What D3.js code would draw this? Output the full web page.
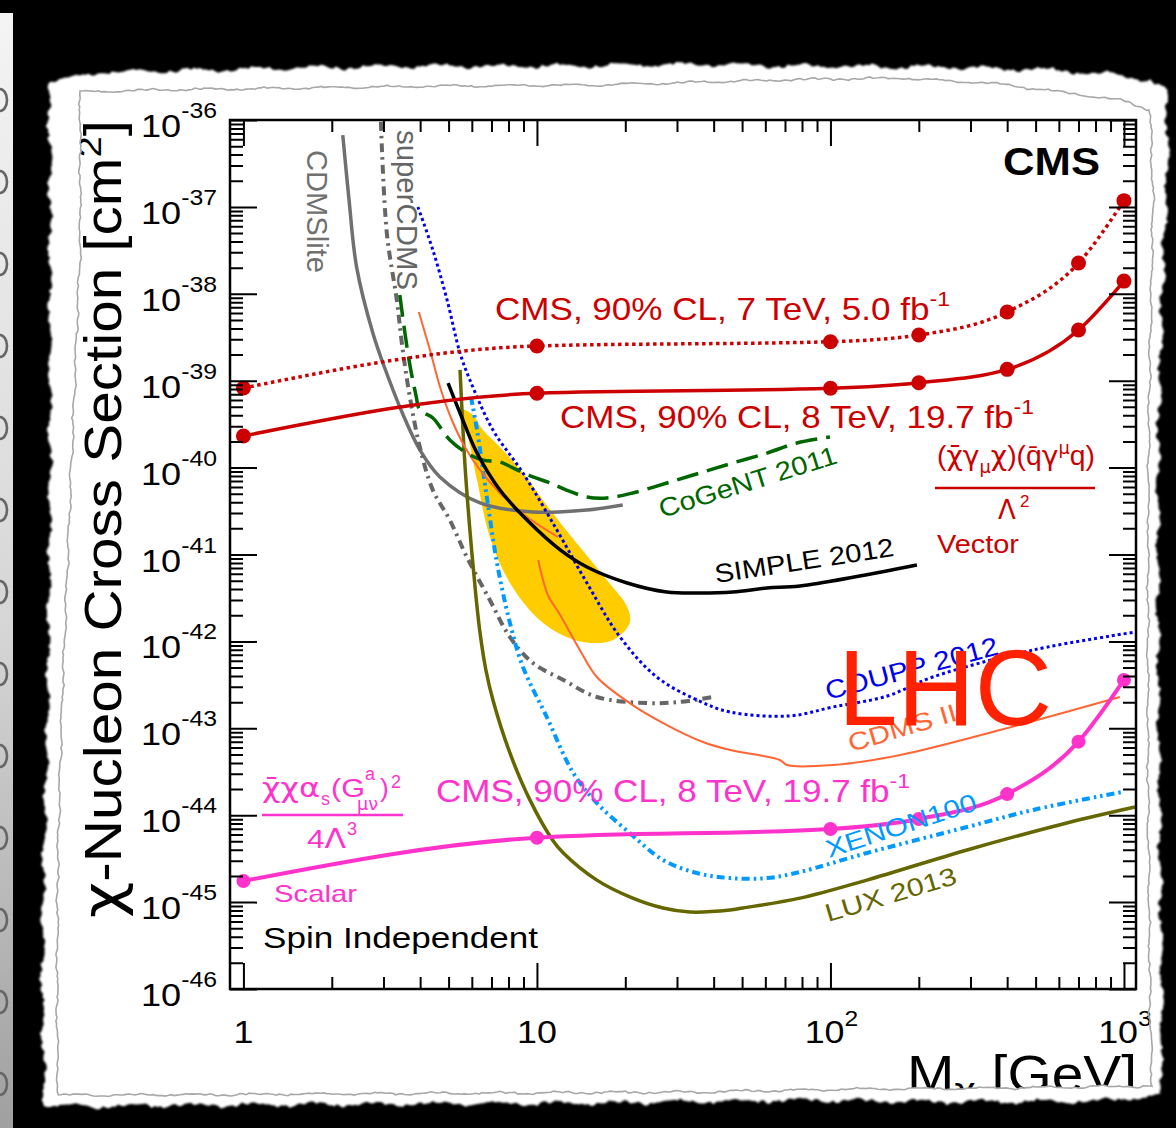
<!DOCTYPE html>
<html><head><meta charset="utf-8">
<script src="https://cdn.jsdelivr.net/npm/d3@7"></script>
<style>html,body{margin:0;padding:0;background:#000;}svg{display:block;}</style>
</head><body>
<svg id="c" width="1176" height="1128"></svg>
<script>
// ---------------- DATA ----------------
const cmsMasses = [1, 10, 100, 200, 400, 700, 1000];
const cms7Vector = [8.24e-40, 2.51e-39, 2.81e-39, 3.36e-39, 6.18e-39, 2.26e-38, 1.18e-37];
const cms8Vector = [2.31e-40, 7.16e-40, 8.18e-40, 9.48e-40, 1.35e-39, 3.83e-39, 1.40e-38];
const cms8Scalar = [1.75e-45, 5.51e-45, 6.94e-45, 9.04e-45, 1.75e-44, 7.02e-44, 3.6e-43];

const cdmsliteMass = [2.18, 2.29, 2.43, 2.76, 3.03, 3.49, 3.99, 4.67, 6.40, 9.70, 14.8, 19.6];
const cdmsliteXsec = [6.7e-37, 1.2e-37, 2.03e-38, 3.54e-39, 1.40e-39, 4.14e-40, 1.6e-40, 7.8e-41, 3.92e-41, 3.08e-41, 3.25e-41, 3.71e-41];

const superCdmsMass = [2.94, 3.08, 3.33, 3.49, 3.69, 3.99, 4.42, 5.05, 5.77, 6.91, 8.09, 9.69, 12.3, 16.0, 23.7, 30.7, 39.5];
const superCdmsXsec = [9.5e-37, 5.0e-38, 8.5e-39, 2.25e-39, 6.5e-40, 1.73e-40, 5.5e-41, 2.49e-41, 9.35e-42, 2.99e-42, 1.12e-42, 5.64e-43, 3.6e-43, 2.29e-43, 1.95e-43, 2.01e-43, 2.29e-43];

const couppMass = [3.93, 4.42, 4.94, 5.47, 5.91, 7.08, 8.96, 11.7, 14.8, 19.2, 25.6, 35.1, 45.5, 72.8, 102, 156, 223, 490, 1090];
const couppXsec = [1.0e-37, 3.19e-38, 8.49e-39, 2.08e-39, 1.02e-39, 2.71e-40, 8.67e-41, 1.91e-41, 4.7e-42, 1.12e-42, 3.89e-43, 2.12e-43, 1.54e-43, 1.39e-43, 1.76e-43, 2.35e-43, 3.89e-43, 7.96e-43, 1.28e-42];

const cdmsLowMass = [3.96, 4.32, 4.71, 5.13, 5.68, 6.40, 7.48, 9.25, 11.8];
const cdmsLowXsec = [6.18e-39, 2.25e-39, 7.82e-40, 3.53e-40, 1.73e-40, 9.4e-41, 5.1e-41, 2.7e-41, 1.59e-41];

const cdmsIIMass = [10.1, 10.9, 12.0, 14.0, 16.0, 20.7, 26.9, 36.8, 45.5, 67.3, 71.1, 102, 173, 378, 968];
const cdmsIIXsec = [8.65e-42, 3.42e-42, 2.01e-42, 7.96e-43, 3.89e-43, 1.95e-43, 1.15e-43, 6.95e-44, 5.62e-44, 4.32e-44, 3.78e-44, 3.78e-44, 4.93e-44, 9.55e-44, 2.29e-43];

const xenonMass = [5.96, 6.25, 6.75, 7.31, 8.09, 8.96, 10.8, 13.3, 16.0, 20.7, 26.9, 35.1, 45.5, 60.8, 78.7, 133, 292, 490, 984];
const xenonXsec = [6.5e-40, 2.71e-40, 4.59e-41, 7.98e-42, 1.63e-42, 5.07e-43, 1.35e-43, 3.06e-44, 1.38e-44, 6.24e-45, 3.05e-45, 2.16e-45, 1.89e-45, 1.89e-45, 2.22e-45, 3.67e-45, 7.31e-45, 1.15e-44, 1.85e-44];

const luxMass = [5.47, 5.68, 5.91, 6.20, 6.40, 6.70, 7.08, 8.09, 9.46, 11.3, 12.3, 16.0, 20.7, 26.9, 33.2, 45.5, 50.3, 78.7, 133, 292, 639, 1090];
const luxXsec = [1.33e-39, 1.13e-40, 1.91e-41, 3.24e-42, 1.25e-42, 4.69e-43, 2.12e-43, 5.2e-44, 1.5e-44, 5.19e-45, 3.67e-45, 1.79e-45, 1.15e-45, 8.55e-46, 7.69e-46, 8.11e-46, 8.55e-46, 1.11e-45, 1.79e-45, 3.98e-45, 8.13e-45, 1.24e-44];

const simpleMass = [4.98, 5.47, 6.25, 7.48, 9.25, 12.0, 14.8, 20.3, 27.7, 35.9, 46.5, 60.8, 78.7, 197];
const simpleXsec = [9.4e-40, 4.25e-40, 1.47e-40, 5.52e-41, 2.49e-41, 1.13e-41, 7.18e-42, 4.7e-42, 3.7e-42, 3.6e-42, 3.7e-42, 4.12e-42, 4.34e-42, 7.57e-42];

const cogentMass = [3.41, 3.55, 3.69, 3.87, 3.99, 4.42, 5.05, 5.77, 6.55, 7.48, 8.55, 9.69, 11.1, 12.6, 14.8, 17.3, 21.2, 27.7, 35.9, 46.5, 60.8, 76.9, 99.6];
const cogentXsec = [9.7e-39, 3.54e-39, 1.52e-39, 6.84e-40, 4.6e-40, 3.72e-40, 2.08e-40, 1.47e-40, 1.22e-40, 1.16e-40, 9.4e-41, 7.8e-41, 6.65e-41, 5.52e-41, 4.59e-41, 4.47e-41, 5.1e-41, 6.65e-41, 8.67e-41, 1.13e-40, 1.47e-40, 1.92e-40, 2.25e-40];

const regionMass = [5.59, 5.77, 6.25, 6.91, 8.09, 10.2, 12.6, 15.2, 18.2, 20.7, 20.3, 17.3, 14.0, 11.1, 8.96, 7.48, 6.55, 6.05];
const regionXsec = [4.6e-40, 2.71e-40, 7.2e-41, 1.59e-41, 4.7e-42, 1.76e-42, 1.12e-42, 9.6e-43, 1.04e-42, 1.63e-42, 2.49e-42, 5.09e-42, 1.22e-41, 3.25e-41, 8.67e-41, 1.73e-40, 2.71e-40, 4.03e-40];

const xMajorTicks = [1, 10, 100, 1000];
const xTickBase = ["1", "10", "10", "10"];
const xTickExp = ["", "", "2", "3"];
const yTickExp = ["-36", "-37", "-38", "-39", "-40", "-41", "-42", "-43", "-44", "-45", "-46"];

// ---------------- SETUP ----------------
const FONT = "'Liberation Sans', Arial, Helvetica, sans-serif";
const GREEK = "'DejaVu Sans', 'Liberation Serif', serif";
const svg = d3.select('#c');
const defs = svg.append('defs');
const W = 1176, H = 1128;

svg.append('rect').attr('width', W).attr('height', H).attr('fill', '#000');

// left strip (edge of another page behind)
const grad = defs.append('linearGradient').attr('id', 'strip').attr('x1', 0).attr('y1', 0).attr('x2', 0).attr('y2', 1);
grad.append('stop').attr('offset', '0').attr('stop-color', '#f4f4f4');
grad.append('stop').attr('offset', '0.55').attr('stop-color', '#d6d6d6');
grad.append('stop').attr('offset', '1').attr('stop-color', '#a0a0a0');
defs.append('clipPath').attr('id', 'stripClip').append('rect').attr('x', 0).attr('y', 13).attr('width', 13).attr('height', H - 13);
const strip = svg.append('g').attr('clip-path', 'url(#stripClip)');
strip.append('rect').attr('x', 0).attr('y', 13).attr('width', 13).attr('height', H - 13).attr('fill', 'url(#strip)');
d3.range(100, 1100, 82).forEach(cy => {
  strip.append('ellipse').attr('cx', 0).attr('cy', cy).attr('rx', 7).attr('ry', 11)
    .attr('fill', 'none').attr('stroke', '#666').attr('stroke-width', 2.6);
});

// torn edge helpers (decorative)
function hash(i, s) { const v = Math.sin(i * 12.9898 + s * 78.233) * 43758.5453; return (v - Math.floor(v)) * 2 - 1; }
function jagged(pts, step, amp, seed) {
  const out = [];
  let c = 0;
  for (let i = 0; i < pts.length - 1; i++) {
    const [x0, y0] = pts[i], [x1, y1] = pts[i + 1];
    const L = Math.hypot(x1 - x0, y1 - y0), n = Math.max(1, Math.round(L / step));
    const nx = -(y1 - y0) / L, ny = (x1 - x0) / L;
    for (let k = 0; k < n; k++) {
      const t = k / n; c++;
      const r = amp * (0.55 * Math.sin(c * 0.31 + seed) + 0.25 * Math.sin(c * 1.37 + seed * 2) + 0.35 * hash(c, seed));
      out.push([x0 + (x1 - x0) * t + nx * r, y0 + (y1 - y0) * t + ny * r]);
    }
  }
  return out;
}
const outerCtrl = [[48,82],[100,72],[200,70],[300,68],[420,66],[560,66],[700,64],[800,66],[950,67],[1050,70],[1110,74],[1150,80],[1166,90],
  [1168,150],[1162,300],[1158,450],[1158,650],[1160,850],[1162,1000],[1161,1095],
  [1100,1101],[950,1102],[800,1100],[600,1103],[400,1104],[200,1105],[100,1106],[45,1106],
  [42,1000],[44,850],[48,700],[50,500],[50,300],[50,150],[48,82]];
const innerCtrl = [[80,92],[150,90],[300,88],[450,86],[600,85],[776,80],[900,78],[1000,84],[1060,92],[1120,100],[1150,110],
  [1153,200],[1149,400],[1148,600],[1148,800],[1150,1000],[1152,1086],
  [1000,1088],[860,1089],[700,1092],[500,1093],[300,1094],[120,1095],[58,1095],
  [57,1000],[58,850],[62,700],[68,550],[74,400],[80,250],[80,92]];
const outerPts = jagged(outerCtrl, 3, 3.2, 1.7);
const innerPts = jagged(innerCtrl, 3, 1.6, 4.1);
const closed = d3.line();
defs.append('filter').attr('id', 'soft').append('feGaussianBlur').attr('stdDeviation', 0.9);
svg.append('path').attr('d', closed(outerPts) + 'Z').attr('fill', '#fff').attr('filter', 'url(#soft)');
defs.append('clipPath').attr('id', 'innerClip').append('path').attr('d', closed(innerPts) + 'Z');

const page = svg.append('g').attr('clip-path', 'url(#innerClip)');
const free = svg.append('g');

// ---------------- SCALES ----------------
const X0 = 230, X1 = 1136, Y0 = 120, Y1 = 989;
const x = d3.scaleLog().domain([0.9, 1099]).range([X0, X1]);
const y = d3.scaleLog().domain([1e-46, 1e-36]).range([Y1, Y0]);

defs.append('clipPath').attr('id', 'plotClip').append('rect').attr('x', X0).attr('y', Y0).attr('width', X1 - X0).attr('height', Y1 - Y0);
const plot = page.append('g').attr('clip-path', 'url(#plotClip)');

const line = d3.line().x(d => x(d[0])).y(d => y(d[1])).curve(d3.curveCatmullRom.alpha(0.5));
const smooth = d3.line().x(d => x(d[0])).y(d => y(d[1])).curve(d3.curveMonotoneX);

// signal region
plot.append('path').datum(d3.zip(regionMass, regionXsec))
  .attr('d', d3.line().x(d => x(d[0])).y(d => y(d[1])).curve(d3.curveCatmullRomClosed.alpha(0.5)))
  .attr('fill', '#ffcc00').attr('stroke', 'none');

function curve(m, s, color, width, dash) {
  const p = plot.append('path').datum(d3.zip(m, s)).attr('d', line)
    .attr('fill', 'none').attr('stroke', color).attr('stroke-width', width).attr('stroke-linejoin', 'round');
  if (dash) p.attr('stroke-dasharray', dash);
}
curve(cdmsliteMass, cdmsliteXsec, '#707070', 3.5);
curve(superCdmsMass, superCdmsXsec, '#666666', 4, '9,5,2.5,5');
curve(luxMass, luxXsec, '#666600', 3.5);
curve(xenonMass, xenonXsec, '#0099ff', 4, '8,4,2.5,4,2.5,4');
curve(cdmsLowMass, cdmsLowXsec, '#ff6633', 2);
curve(cdmsIIMass, cdmsIIXsec, '#ff6633', 2);
curve(couppMass, couppXsec, '#0000ee', 3, '3,3');
curve(cogentMass, cogentXsec, '#006600', 3.5, '22,9');
curve(simpleMass, simpleXsec, '#000000', 3.5);

// CMS curves
function cms(vals, color, width, dash, r) {
  const data = d3.zip(cmsMasses, vals);
  const p = plot.append('path').datum(data).attr('d', smooth)
    .attr('fill', 'none').attr('stroke', color).attr('stroke-width', width);
  if (dash) p.attr('stroke-dasharray', dash);
  page.append('g').selectAll('circle').data(data).join('circle')
    .attr('cx', d => x(d[0])).attr('cy', d => y(d[1])).attr('r', r).attr('fill', color);
}
cms(cms7Vector, '#cc0000', 3.5, '3.5,3.5', 7.5);
cms(cms8Vector, '#cc0000', 3.5, null, 7.5);
cms(cms8Scalar, '#ff33cc', 4, null, 7);

// ---------------- AXES ----------------
const xMinor = [0, 1, 2].flatMap(k => d3.range(2, 10).map(m => m * Math.pow(10, k)));
const yMajor = yTickExp.map(e => Math.pow(10, +e));
const yMinor = d3.range(-46, -36).flatMap(k => d3.range(2, 10).map(m => m * Math.pow(10, k)));

function styleAxis(g) { g.select('.domain').remove(); g.selectAll('line').attr('stroke', '#000').attr('stroke-width', 2); g.selectAll('text').remove(); }
const ax = page.append('g');
ax.append('g').attr('transform', `translate(${X0},0)`).call(d3.axisLeft(y).tickValues(yMajor).tickSize(-27)).call(styleAxis);
ax.append('g').attr('transform', `translate(${X0},0)`).call(d3.axisLeft(y).tickValues(yMinor).tickSize(-13)).call(styleAxis);
ax.append('g').attr('transform', `translate(${X1},0)`).call(d3.axisRight(y).tickValues(yMajor).tickSize(-27)).call(styleAxis);
ax.append('g').attr('transform', `translate(${X1},0)`).call(d3.axisRight(y).tickValues(yMinor).tickSize(-13)).call(styleAxis);
ax.append('g').attr('transform', `translate(0,${Y1})`).call(d3.axisBottom(x).tickValues(xMajorTicks).tickSize(-26)).call(styleAxis);
ax.append('g').attr('transform', `translate(0,${Y1})`).call(d3.axisBottom(x).tickValues(xMinor).tickSize(-12)).call(styleAxis);
ax.append('g').attr('transform', `translate(0,${Y0})`).call(d3.axisTop(x).tickValues(xMajorTicks).tickSize(-26)).call(styleAxis);
ax.append('g').attr('transform', `translate(0,${Y0})`).call(d3.axisTop(x).tickValues(xMinor).tickSize(-12)).call(styleAxis);
page.append('rect').attr('x', X0).attr('y', Y0).attr('width', X1 - X0).attr('height', Y1 - Y0)
  .attr('fill', 'none').attr('stroke', '#000').attr('stroke-width', 2.5);

// ---------------- TEXT ----------------
function txt(o, parts) {
  const t = (o.parent || page).append('text')
    .attr('transform', `translate(${o.x},${o.y}) rotate(${o.rot || 0}) scale(${o.sx || 1},1)`)
    .attr('font-family', o.family || FONT).attr('font-size', o.size)
    .attr('fill', o.color || '#000').attr('font-weight', o.weight || 'normal')
    .attr('text-anchor', o.anchor || 'start');
  parts.forEach(p => {
    if (typeof p === 'string') p = { t: p };
    const s = t.append('tspan').text(p.t);
    if (p.dy) s.attr('dy', p.dy);
    if (p.size) s.attr('font-size', p.size);
    if (p.g) s.attr('font-family', GREEK);
  });
  if (o.len) t.attr('textLength', o.len).attr('lengthAdjust', 'spacingAndGlyphs');
  return t;
}

// y tick labels
yTickExp.forEach((e, i) => {
  txt({ parent: free, x: 217, y: y(yMajor[i]) + 17, size: 32, anchor: 'end', len: 76 }, ['10', { t: e, dy: -19, size: 22 }]);
});
// x tick labels
xMajorTicks.forEach((v, i) => {
  const parts = [xTickBase[i]];
  if (xTickExp[i]) parts.push({ t: xTickExp[i], dy: -17, size: 22 });
  txt({ parent: free, x: x(v) + (xTickExp[i] ? 1 : 0), y: 1043, size: 32, anchor: 'middle', sx: 1.12 }, parts);
});

// axis titles
txt({ x: 121, y: 918, rot: -90, size: 52, len: 798 },
  [{ t: '\u03C7', g: true, size: 56 }, { t: '-Nucleon Cross Section [cm', size: 52 }, { t: '2', dy: -20, size: 34 }, { t: ']', dy: 20, size: 52 }]);
txt({ x: 907, y: 1092, size: 52, len: 230 }, ['M', { t: '\u03C7', dy: 10, size: 34, g: true }, { t: ' [GeV]', dy: -10 }]);

// CMS
txt({ x: 1003, y: 175, size: 39, weight: 'bold', len: 97 }, ['CMS']);

// CMS result labels
txt({ x: 495, y: 320, size: 32, color: '#cc0000', len: 455 }, ['CMS, 90% CL, 7 TeV, 5.0 fb', { t: '-1', dy: -14, size: 21 }]);
txt({ x: 560, y: 428, size: 32, color: '#cc0000', len: 474 }, ['CMS, 90% CL, 8 TeV, 19.7 fb', { t: '-1', dy: -14, size: 21 }]);
txt({ x: 436, y: 802, size: 32, color: '#ff33cc', len: 474 }, ['CMS, 90% CL, 8 TeV, 19.7 fb', { t: '-1', dy: -14, size: 21 }]);

// vector operator
const RED = '#cc0000';
txt({ x: 937, y: 465, size: 27, color: RED, len: 158 },
  ['(', { t: '\u03C7\u0304\u03B3', g: true }, { t: '\u03BC', dy: 8, size: 17, g: true }, { t: '\u03C7', dy: -8, size: 27, g: true },
   { t: ')(q\u0304', size: 27 }, { t: '\u03B3', g: true }, { t: '\u03BC', dy: -11, size: 17, g: true }, { t: 'q)', dy: 11, size: 27 }]);
page.append('line').attr('x1', 935).attr('x2', 1095).attr('y1', 488).attr('y2', 488).attr('stroke', RED).attr('stroke-width', 2.5);
txt({ x: 998, y: 519, size: 26, color: RED, family: GREEK }, ['\u039B']);
txt({ x: 1020, y: 507, size: 17, color: RED }, ['2']);
txt({ x: 937, y: 553, size: 25, color: RED, len: 82 }, ['Vector']);

// scalar operator
const MAG = '#ff33cc';
txt({ x: 262, y: 797, size: 26, color: MAG, family: GREEK, len: 58 }, ['\u03C7\u0304\u03C7\u03B1']);
txt({ x: 321, y: 805, size: 18, color: MAG }, ['s']);
txt({ x: 331, y: 797, size: 26, color: MAG, len: 34 }, ['(G']);
txt({ x: 365, y: 780, size: 18, color: MAG }, ['a']);
txt({ x: 357, y: 810, size: 18, color: MAG, family: GREEK, len: 21 }, ['\u03BC\u03BD']);
txt({ x: 380, y: 797, size: 26, color: MAG }, [')']);
txt({ x: 391, y: 788, size: 18, color: MAG }, ['2']);
page.append('line').attr('x1', 262).attr('x2', 403).attr('y1', 815).attr('y2', 815).attr('stroke', MAG).attr('stroke-width', 2.5);
txt({ x: 307, y: 848, size: 26, color: MAG, len: 39 }, ['4', { t: '\u039B', g: true, size: 26 }]);
txt({ x: 347, y: 835, size: 18, color: MAG }, ['3']);
txt({ x: 274, y: 902, size: 24, color: MAG, len: 83 }, ['Scalar']);

txt({ x: 263, y: 948, size: 29, len: 275 }, ['Spin Independent']);

// experiment labels
txt({ x: 307, y: 150, rot: 90, size: 29, color: '#707070', len: 123 }, ['CDMSlite']);
txt({ x: 397, y: 130, rot: 90, size: 29, color: '#666666', len: 160 }, ['superCDMS']);
txt({ x: 662, y: 518, rot: -17.3, size: 26, color: '#006600', len: 185 }, ['CoGeNT 2011']);
txt({ x: 716, y: 583, rot: -8.6, size: 26, color: '#000', len: 181 }, ['SIMPLE 2012']);
txt({ x: 828, y: 700, rot: -15, size: 26, color: '#0000ee', len: 178 }, ['COUPP 2012']);
txt({ x: 851, y: 752, rot: -16.5, size: 25, color: '#ff6633', len: 112 }, ['CDMS II']);
txt({ x: 829, y: 858, rot: -18, size: 25, color: '#0099ff', len: 157 }, ['XENON100']);
txt({ x: 828, y: 922, rot: -16.5, size: 25, color: '#666600', len: 136 }, ['LUX 2013']);

// LHC overlay
txt({ x: 838, y: 725, size: 107, color: '#ff2200', len: 214 }, ['LHC']);

// inner deckle line
svg.append('path').attr('d', closed(innerPts) + 'Z').attr('fill', 'none').attr('stroke', '#a8a8a8').attr('stroke-width', 1.6);
</script>
</body></html>
